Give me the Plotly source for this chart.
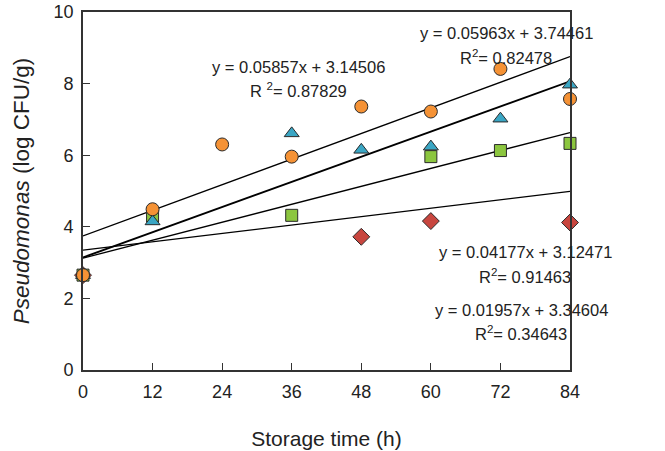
import plotly.graph_objects as go

# Data
orange_x = [0, 12, 24, 36, 48, 60, 72, 84]
orange_y = [2.65, 4.49, 6.30, 5.96, 7.36, 7.22, 8.41, 7.57]
blue_x = [0, 12, 36, 48, 60, 72, 84]
blue_y = [2.65, 4.15, 6.61, 6.15, 6.24, 7.02, 7.97]
green_x = [0, 12, 36, 60, 72, 84]
green_y = [2.65, 4.30, 4.32, 5.96, 6.13, 6.33]
red_x = [0, 48, 60, 84]
red_y = [2.65, 3.72, 4.16, 4.12]

# Regression lines (orange, blue, green, red)
slopes = [0.05963, 0.05857, 0.04177, 0.01957]
intercepts = [3.74461, 3.14506, 3.12471, 3.34604]
line_widths = [1.3, 1.9, 1.3, 1.3]
x_fit = [0, 84]

x_ticks = [0, 12, 24, 36, 48, 60, 72, 84]
y_ticks = [0, 2, 4, 6, 8, 10]

equation_texts = [
    "y = 0.05857x + 3.14506",
    "R <sup>2</sup>= 0.87829",
    "y = 0.05963x + 3.74461",
    "R<sup>2</sup>= 0.82478",
    "y = 0.04177x + 3.12471",
    "R<sup>2</sup>= 0.91463",
    "y = 0.01957x + 3.34604",
    "R<sup>2</sup>= 0.34643",
]

# plot area in pixels
L, R, T, B = 83, 570, 12, 370
W, H = 665, 451

fig = go.Figure()

for m, b, w in zip(slopes, intercepts, line_widths):
    fig.add_trace(go.Scatter(x=x_fit, y=[b + m * xv for xv in x_fit], mode="lines",
                             line=dict(color="black", width=w), showlegend=False,
                             hoverinfo="skip", cliponaxis=False))

edge = dict(color="#2a2a2a", width=1)
fig.add_trace(go.Scatter(x=red_x, y=red_y, mode="markers", cliponaxis=False,
                         marker=dict(symbol="diamond", size=13, color="#C8463F", line=edge),
                         showlegend=False))
fig.add_trace(go.Scatter(x=green_x, y=green_y, mode="markers", cliponaxis=False,
                         marker=dict(symbol="square", size=12, color="#8CC63F", line=edge),
                         showlegend=False))
fig.add_trace(go.Scatter(x=blue_x, y=blue_y, mode="markers", cliponaxis=False,
                         marker=dict(symbol="triangle-up", size=13, color="#3AA6C4", line=edge),
                         showlegend=False))
fig.add_trace(go.Scatter(x=orange_x, y=orange_y, mode="markers", cliponaxis=False,
                         marker=dict(symbol="circle", size=13, color="#F59235", line=edge),
                         showlegend=False))

ann_font = dict(family="Liberation Sans, Arial, sans-serif", size=16.5, color="#222")
# text centre positions in pixels
ann_px = [(298, 67), (298, 90), (506, 33), (506, 57), (525, 252), (525, 276), (521, 310), (521, 333)]
for t, (pxc, pyc) in zip(equation_texts, ann_px):
    fig.add_annotation(x=(pxc - L) / (R - L), y=(B - pyc) / (B - T), text=t, showarrow=False,
                       font=ann_font, xref="paper", yref="paper",
                       xanchor="center", yanchor="middle")

axis_font = dict(family="Liberation Sans, Arial, sans-serif", size=18, color="#222")
fig.update_layout(
    width=W, height=H,
    margin=dict(l=L, r=W - R, t=T, b=H - B),
    paper_bgcolor="white", plot_bgcolor="white",
    font=axis_font,
    xaxis=dict(range=[0, 84], tickvals=x_ticks, ticks="inside", ticklen=7,
               tickwidth=1.3, tickcolor="#333", showline=True, linecolor="#333",
               linewidth=1.6, mirror=True, showgrid=False, zeroline=False,
               ticklabelstandoff=5, tickfont=axis_font, automargin=False,
               title=dict(text="Storage time (h)", standoff=30,
                          font=dict(family="Liberation Sans, Arial, sans-serif", size=21, color="#222"))),
    yaxis=dict(range=[0, 10], tickvals=y_ticks, ticks="inside", ticklen=7,
               tickwidth=1.3, tickcolor="#333", showline=True, linecolor="#333",
               linewidth=1.6, mirror=True, showgrid=False, zeroline=False,
               ticklabelstandoff=4, tickfont=axis_font, automargin=False,
               title=dict(text="<i>Pseudomonas</i> (log CFU/g)", standoff=18,
                          font=dict(family="Liberation Sans, Arial, sans-serif", size=22.5, color="#222"))),
)

fig.write_html("out.html")
